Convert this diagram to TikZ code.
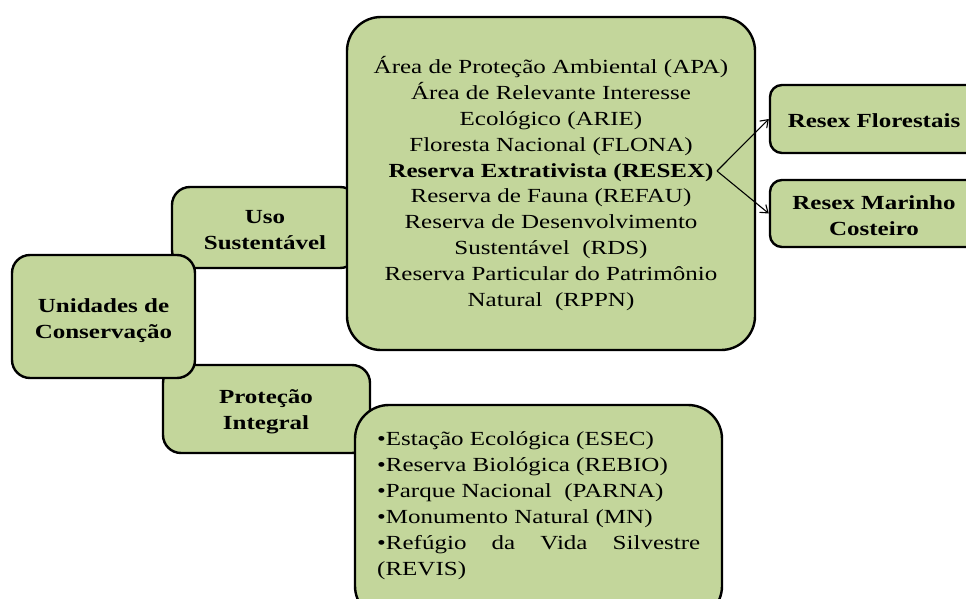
\documentclass[tikz,border=0pt]{standalone}
\usepackage{fontspec}
\setmainfont[FakeStretch=1.25]{Liberation Serif}
\usetikzlibrary{arrows.meta}
\definecolor{boxgreen}{RGB}{195,214,155}
\begin{document}
\begin{tikzpicture}[x=1pt,y=-1pt,
  box/.style={draw=black, line width=2.4pt, fill=boxgreen, rounded corners=18pt, inner sep=0pt},
  bigbox/.style={box, rounded corners=34pt, align=center, font=\fontsize{20}{25.8}\selectfont},
  smallbox/.style={box, rounded corners=12pt},
  lbl/.style={font=\fontsize{20}{26}\selectfont\bfseries, align=center, inner sep=0pt},
  txt/.style={font=\fontsize{20}{26}\selectfont, inner sep=0pt},
  arr/.style={-{Straight Barb[length=7pt,width=10pt]}, line width=1.1pt}]
\useasboundingbox (0,0) rectangle (966,599);
\clip (0,0) rectangle (966,599);
\node[box, minimum width=186pt, minimum height=81pt] (uso) at (265,227.5) {};
\node[lbl] (usol) at (265,230) {Uso\\Sustentável};
\node[box, minimum width=207pt, minimum height=88pt] (prot) at (266.5,409) {};
\node[lbl] (protl) at (266,412) {Proteção\\Integral};
\node[box, minimum width=183pt, minimum height=123pt] (uc) at (103.5,316.5) {};
\node[lbl] (ucl) at (103.5,321) {Unidades de\\Conservação};
\node[bigbox, minimum width=408pt, minimum height=333pt] (us) at (551,183.5)
  {Área de Proteção Ambiental (APA)\\Área de Relevante Interesse\\Ecológico (ARIE)\\Floresta Nacional (FLONA)\\
   \textbf{Reserva Extrativista (RESEX)}\\Reserva de Fauna (REFAU)\\Reserva de Desenvolvimento\\Sustentável\ \ (RDS)\\
   Reserva Particular do Patrimônio\\Natural\ \ (RPPN)};
\node[bigbox, minimum width=367pt, minimum height=215pt] (pi) at (538.5,512.5) {};
\node[txt, anchor=west, align=left] (pitxt) at (377,506)
  {•Estação Ecológica (ESEC)\\•Reserva Biológica (REBIO)\\•Parque Nacional\ \ (PARNA)\\•Monumento Natural (MN)\\
   \makebox[323pt][s]{•Refúgio da Vida Silvestre}\\(REVIS)};
\node[smallbox, minimum width=208pt, minimum height=68pt] (flo) at (874,119) {};
\node[lbl] (flol) at (874,121) {Resex Florestais};
\node[smallbox, minimum width=208pt, minimum height=67pt] (mar) at (874,213.5) {};
\node[lbl] (marl) at (874,215.5) {Resex Marinho\\Costeiro};
\coordinate (rx) at (717,171);
\draw[arr] (rx) -- (flo.west);
\draw[arr] (rx) -- (mar.west);
\end{tikzpicture}
\end{document}
